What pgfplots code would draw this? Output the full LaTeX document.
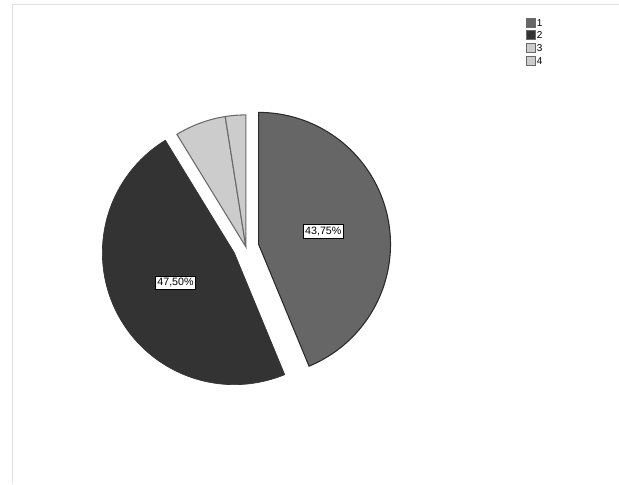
\documentclass[border=0pt]{standalone}
\usepackage{pgfplots}
\pgfplotsset{compat=1.18}
\usepackage{pgfplotstable}
\usepackage{fontspec}
\setmainfont{Liberation Sans}
\definecolor{cA}{HTML}{666666}
\definecolor{cB}{HTML}{333333}
\definecolor{cC}{HTML}{CCCCCC}
\definecolor{cD}{HTML}{CCCCCC}
\definecolor{edgeA}{HTML}{2A2A2A}
\definecolor{edgeC}{HTML}{6A6A6A}
\definecolor{framec}{HTML}{E2E2E2}

\pgfplotstableread{
id value explode
1 43.75 13
2 47.50 13
3 6.25 0
4 2.50 0
}\piedata

\begin{document}
\begin{tikzpicture}
\pgfplotstablegetelem{0}{value}\of\piedata \edef\vA{\pgfplotsretval}
\pgfplotstablegetelem{1}{value}\of\piedata \edef\vB{\pgfplotsretval}
\pgfplotstablegetelem{2}{value}\of\piedata \edef\vC{\pgfplotsretval}
\pgfplotstablegetelem{3}{value}\of\piedata \edef\vD{\pgfplotsretval}
\pgfplotstablegetelem{0}{explode}\of\piedata \edef\eA{\pgfplotsretval}
\pgfplotstablegetelem{1}{explode}\of\piedata \edef\eB{\pgfplotsretval}
\pgfplotstablegetelem{2}{explode}\of\piedata \edef\eC{\pgfplotsretval}
\pgfplotstablegetelem{3}{explode}\of\piedata \edef\eD{\pgfplotsretval}
\pgfmathsetmacro\cx{246}
\pgfmathsetmacro\cy{237}
\pgfmathsetmacro\R{132}
\pgfmathsetmacro\aA{90}
\pgfmathsetmacro\aB{\aA-3.6*\vA}
\pgfmathsetmacro\aC{\aB-3.6*\vB}
\pgfmathsetmacro\aD{\aC-3.6*\vC}
\pgfmathsetmacro\aE{\aD-3.6*\vD}
\pgfmathsetmacro\mA{(\aA+\aB)/2}
\pgfmathsetmacro\mB{(\aB+\aC)/2}
\pgfmathsetmacro\mC{(\aC+\aD)/2}
\pgfmathsetmacro\mD{(\aD+\aE)/2}
\pgfmathsetmacro\xA{\cx+\eA*cos(\mA)}
\pgfmathsetmacro\yA{\cy+\eA*sin(\mA)}
\pgfmathsetmacro\xB{\cx+\eB*cos(\mB)}
\pgfmathsetmacro\yB{\cy+\eB*sin(\mB)}
\pgfmathsetmacro\xC{\cx+\eC*cos(\mC)}
\pgfmathsetmacro\yC{\cy+\eC*sin(\mC)}
\pgfmathsetmacro\xD{\cx+\eD*cos(\mD)}
\pgfmathsetmacro\yD{\cy+\eD*sin(\mD)}
\pgfmathsetmacro\lxA{\xA+0.5*\R*cos(\mA)}
\pgfmathsetmacro\lyA{\yA+0.5*\R*sin(\mA)}
\pgfmathsetmacro\lxB{\xB+0.5*\R*cos(\mB)}
\pgfmathsetmacro\lyB{\yB+0.5*\R*sin(\mB)}
\begin{axis}[
  width=464.25pt, height=363pt, scale only axis,
  xmin=0, xmax=619, ymin=0, ymax=484,
  hide axis, clip=false,
  legend image code/.code={\draw[#1] (0pt,-3.3pt) rectangle (6.6pt,3.3pt);},
  legend cell align=left,
  legend style={at={(axis cs:526.5,466.5)}, anchor=north west, draw=none, fill=none,
    inner sep=0pt, row sep=2.2pt,
    font=\fontsize{7.5}{8}\selectfont,
    nodes={inner sep=0.6pt, text height=5.4pt, text depth=0pt}},
]
\path (axis cs:0,0) rectangle (axis cs:619,484);
\draw[framec, line width=0.6pt] (axis cs:12,0) -- (axis cs:12,480) -- (axis cs:619,480);

\addplot[forget plot, fill=cA, draw=edgeA, line width=0.8pt, domain=\aB:\aA, samples=100]
  ({\xA+\R*cos(x)},{\yA+\R*sin(x)}) -- (axis cs:\xA,\yA) -- cycle;
\addplot[forget plot, fill=cB, draw=cB, line width=0.5pt, domain=\aC:\aB, samples=100]
  ({\xB+\R*cos(x)},{\yB+\R*sin(x)}) -- (axis cs:\xB,\yB) -- cycle;
\addplot[forget plot, fill=cC, draw=edgeC, line width=0.8pt, domain=\aD:\aC, samples=40]
  ({\xC+\R*cos(x)},{\yC+\R*sin(x)}) -- (axis cs:\xC,\yC) -- cycle;
\addplot[forget plot, fill=cD, draw=edgeC, line width=0.8pt, domain=\aE:\aD, samples=20]
  ({\xD+\R*cos(x)},{\yD+\R*sin(x)}) -- (axis cs:\xD,\yD) -- cycle;

\node[draw=black, fill=white, line width=0.7pt, inner sep=1.6pt, font=\fontsize{8}{9}\selectfont]
  at (axis cs:\lxA,\lyA) {\pgfmathprintnumber[fixed,fixed zerofill,precision=2,use comma,assume math mode=true]{\vA}\%};
\node[draw=black, fill=white, line width=0.7pt, inner sep=1.6pt, font=\fontsize{8}{9}\selectfont]
  at (axis cs:\lxB,\lyB) {\pgfmathprintnumber[fixed,fixed zerofill,precision=2,use comma,assume math mode=true]{\vB}\%};

\addlegendimage{fill=cA, draw=edgeC, line width=0.7pt}
\addlegendentry{1}
\addlegendimage{fill=cB, draw=edgeC, line width=0.7pt}
\addlegendentry{2}
\addlegendimage{fill=cC, draw=edgeC, line width=0.7pt}
\addlegendentry{3}
\addlegendimage{fill=cD, draw=edgeC, line width=0.7pt}
\addlegendentry{4}
\end{axis}
\end{tikzpicture}
\end{document}
